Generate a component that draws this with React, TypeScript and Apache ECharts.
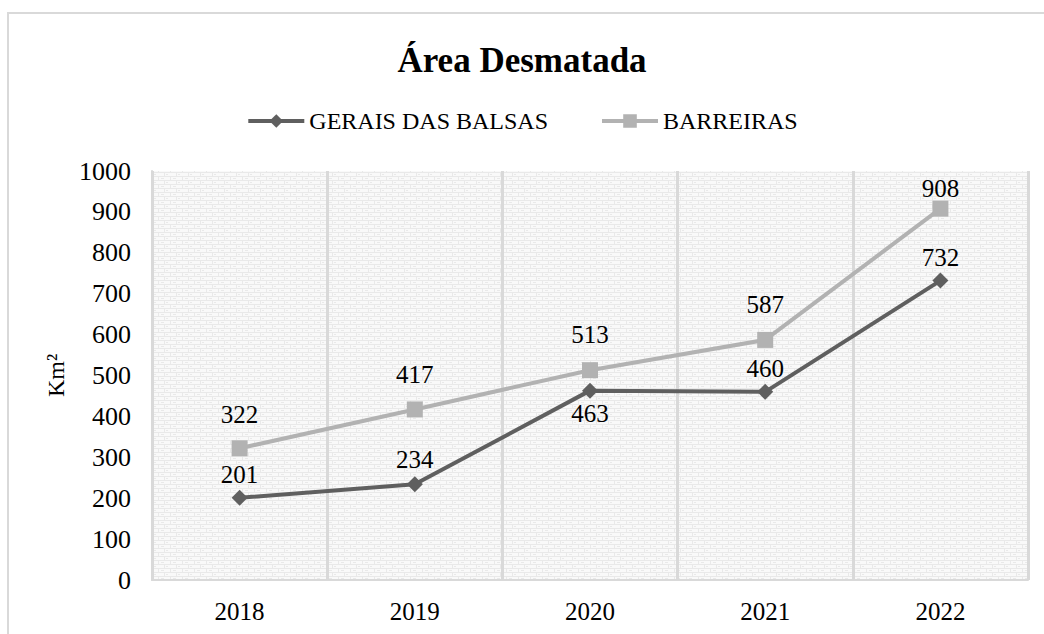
import React, { useEffect, useRef } from "react";
import * as echarts from "echarts";

const categories = ["2018", "2019", "2020", "2021", "2022"];
const geraisValues = [201, 234, 463, 460, 732];
const barreirasValues = [322, 417, 513, 587, 908];
const geraisLabelPos = ["top", "top", "bottom", "top", "top"];
const geraisLabelDist = [3, 4, 2, 3, 3];
const barreirasLabelDist = [13, 14, 15, 15, 0];
const seriesNames = ["GERAIS DAS BALSAS", "BARREIRAS"];

function makePattern(): string {
  const c = document.createElement("canvas");
  c.width = 12;
  c.height = 8;
  const ctx = c.getContext("2d")!;
  ctx.fillStyle = "#f9f9f9";
  ctx.fillRect(0, 0, 12, 8);
  ctx.fillStyle = "#e9e9e9";
  ctx.fillRect(0, 0, 12, 1);
  ctx.fillRect(0, 4, 12, 1);
  ctx.fillRect(2, 1, 1, 3);
  ctx.fillRect(8, 5, 1, 3);
  ctx.fillRect(5, 2, 3, 1);
  ctx.fillRect(10, 6, 2, 1);
  return c.toDataURL();
}

export default function App() {
  const ref = useRef<HTMLDivElement>(null);
  useEffect(() => {
    document.body.style.margin = "0";
    const chart = echarts.init(ref.current!, undefined, { renderer: "svg" });
    const font = "Liberation Serif";
    chart.setOption({
      animation: false,
      backgroundColor: "#ffffff",
      textStyle: { fontFamily: font },
      title: {
        text: "Área Desmatada",
        left: "center",
        top: 38,
        textStyle: { fontFamily: font, fontSize: 35, fontWeight: "bold", color: "#000" },
      },
      legend: {
        top: 104,
        left: "center",
        itemWidth: 56,
        itemHeight: 17,
        itemGap: 52,
        lineStyle: { width: 4 },
        textStyle: { fontFamily: font, fontSize: 24, color: "#000" },
        data: seriesNames,
      },
      graphic: [
        {
          type: "rect",
          shape: { x: 8, y: 13, width: 1200, height: 800 },
          style: { fill: "none", stroke: "#d9d9d9", lineWidth: 2 },
          silent: true,
          z: -10,
        },
      ],
      grid: {
        left: 152,
        right: 16,
        top: 171,
        bottom: 54,
        show: true,
        borderWidth: 0,
        backgroundColor: { image: makePattern(), repeat: "repeat" },
      },
      xAxis: {
        type: "category",
        data: categories,
        boundaryGap: true,
        axisLine: { show: true, lineStyle: { color: "#d9d9d9", width: 2 } },
        axisTick: { show: false },
        splitLine: { show: true, lineStyle: { color: "#d9d9d9", width: 3 } },
        axisLabel: { fontFamily: font, fontSize: 25, color: "#000", margin: 19 },
      },
      yAxis: {
        type: "value",
        min: 0,
        max: 1000,
        interval: 100,
        name: "Km²",
        nameLocation: "middle",
        nameGap: 82,
        nameTextStyle: { fontFamily: font, fontSize: 24, color: "#000" },
        axisLine: { show: true, lineStyle: { color: "#d9d9d9", width: 2 } },
        axisTick: { show: false },
        splitLine: { show: false },
        axisLabel: {
          fontFamily: font,
          fontSize: 26,
          color: "#000",
          margin: 21,
          formatter: (v: number) => String(v),
        },
      },
      series: [
        {
          name: seriesNames[0],
          type: "line",
          data: geraisValues.map((v, i) => ({
            value: v,
            label: { position: geraisLabelPos[i], distance: geraisLabelDist[i] },
          })),
          symbol: "diamond",
          symbolSize: 16,
          lineStyle: { color: "#5f5f5f", width: 4 },
          itemStyle: { color: "#5f5f5f" },
          label: { show: true, fontFamily: font, fontSize: 25, color: "#000" },
          z: 3,
        },
        {
          name: seriesNames[1],
          type: "line",
          data: barreirasValues.map((v, i) => ({
            value: v,
            label: { position: "top", distance: barreirasLabelDist[i] },
          })),
          symbol: "rect",
          symbolSize: 16,
          lineStyle: { color: "#b2b2b2", width: 4 },
          itemStyle: { color: "#b2b2b2" },
          label: { show: true, fontFamily: font, fontSize: 25, color: "#000" },
          z: 2,
        },
      ],
    });
    return () => chart.dispose();
  }, []);
  return <div ref={ref} style={{ width: 1044, height: 634 }} />;
}
